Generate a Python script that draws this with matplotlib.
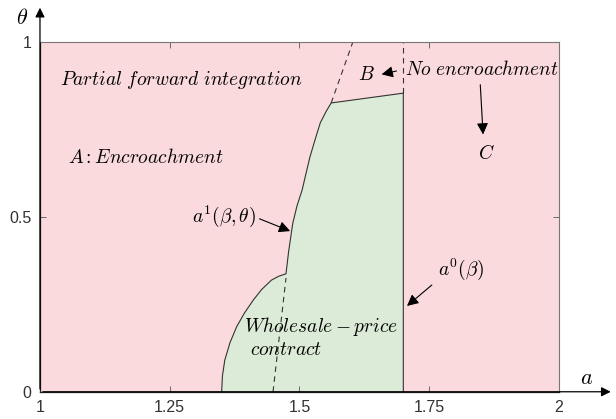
import numpy as np
import matplotlib.pyplot as plt

plt.rcParams['mathtext.fontset'] = 'cm'

# boundary of the wholesale-price region (a, theta)
arc_a = [1.350, 1.3515, 1.356, 1.366, 1.379, 1.394, 1.411, 1.427, 1.446, 1.460, 1.474]
arc_t = [0.000, 0.045, 0.090, 0.140, 0.186, 0.225, 0.262, 0.292, 0.319, 0.330, 0.337]
a1_a = [1.474, 1.479, 1.487, 1.495, 1.505, 1.512, 1.520, 1.530, 1.540, 1.551, 1.561]
a1_t = [0.337, 0.400, 0.481, 0.530, 0.576, 0.620, 0.670, 0.720, 0.768, 0.800, 0.825]
top_a = [1.561, 1.700]
top_t = [0.825, 0.853]
a0 = 1.700

# dashed extensions
dash_low_a = [1.449, 1.474]
dash_low_t = [0.0, 0.325]
dash_up_a = [1.561, 1.603]
dash_up_t = [0.825, 1.0]
dash_v_t = [0.853, 1.0]

xticks = [1, 1.25, 1.5, 1.75, 2]
xticklabels = ['1', '1.25', '1.5', '1.75', '2']
yticks = [0, 0.5, 1]
yticklabels = ['0', '0.5', '1']

pink = '#fadadd'
green = '#dcebd8'
edge = '#333333'

fig = plt.figure(figsize=(6.16, 4.19), dpi=100)
ax = fig.add_axes([0.0649, 0.065, 0.8426, 0.8355])
ax.set_xlim(1, 2)
ax.set_ylim(0, 1)
ax.set_facecolor(pink)

poly_a = arc_a + a1_a[1:] + top_a[1:] + [a0]
poly_t = arc_t + a1_t[1:] + top_t[1:] + [0.0]
ax.fill(poly_a, poly_t, color=green, lw=0)
ax.plot(poly_a, poly_t, color=edge, lw=0.8)

ax.plot(dash_low_a, dash_low_t, '--', color=edge, lw=0.8, dashes=(5, 4))
ax.plot(dash_up_a, dash_up_t, '--', color=edge, lw=0.8, dashes=(5, 4))
ax.plot([a0, a0], dash_v_t, '--', color=edge, lw=0.8, dashes=(5, 4))

ax.set_xticks(xticks)
ax.set_xticklabels(xticklabels)
ax.set_yticks(yticks)
ax.set_yticklabels(yticklabels)
ax.tick_params(direction='in', length=4, width=0.6, top=True, right=True,
               colors='#555555', labelcolor='#333333', labelsize=11.5, pad=6)
for lab in ax.get_xticklabels() + ax.get_yticklabels():
    lab.set_family('Liberation Sans')
for s in ['top', 'right']:
    ax.spines[s].set_color('#777777')
    ax.spines[s].set_linewidth(0.8)
for s in ['left', 'bottom']:
    ax.spines[s].set_color('#222222')
    ax.spines[s].set_linewidth(0.9)

# axis arrows
ax.annotate('', xy=(0, 1.105), xytext=(0, 0), xycoords='axes fraction',
            arrowprops=dict(arrowstyle='-|>', color='black', lw=0.9, mutation_scale=14),
            annotation_clip=False)
ax.annotate('', xy=(1.105, 0), xytext=(0, 0), xycoords='axes fraction',
            arrowprops=dict(arrowstyle='-|>', color='black', lw=0.9, mutation_scale=14),
            annotation_clip=False)
ax.text(-0.035, 1.068, r'$\theta$', transform=ax.transAxes, fontsize=16,
        ha='center', va='center')
ax.text(1.054, 0.04, r'$a$', transform=ax.transAxes, fontsize=16,
        ha='center', va='center')

fs = 14
ax.text(1.272, 0.89, r'$Partial\ forward\ integration$', fontsize=fs, ha='center', va='center')
ax.text(1.203, 0.67, r'$A: Encroachment$', fontsize=fs, ha='center', va='center')
ax.text(1.628, 0.905, r'$B$', fontsize=fs, ha='center', va='center')
ax.text(1.852, 0.92, r'$No\ encroachment$', fontsize=fs, ha='center', va='center')
ax.text(1.861, 0.68, r'$C$', fontsize=fs, ha='center', va='center')
ax.text(1.355, 0.50, r'$a^1(\beta,\theta)$', fontsize=fs, ha='center', va='center')
ax.text(1.811, 0.35, r'$a^0(\beta)$', fontsize=fs, ha='center', va='center')
ax.text(1.393, 0.187, r'$Wholesale-price$', fontsize=fs, ha='left', va='center')
ax.text(1.405, 0.12, r'$contract$', fontsize=fs, ha='left', va='center')

arr = dict(arrowstyle='-|>', color='black', lw=0.8, mutation_scale=17)
ax.annotate('', xy=(1.653, 0.905), xytext=(1.692, 0.918), arrowprops=arr)
ax.annotate('', xy=(1.854, 0.727), xytext=(1.848, 0.885), arrowprops=arr)
ax.annotate('', xy=(1.487, 0.456), xytext=(1.418, 0.497), arrowprops=arr)
ax.annotate('', xy=(1.703, 0.24), xytext=(1.759, 0.31), arrowprops=arr)

fig.savefig('out.png', dpi=100)
